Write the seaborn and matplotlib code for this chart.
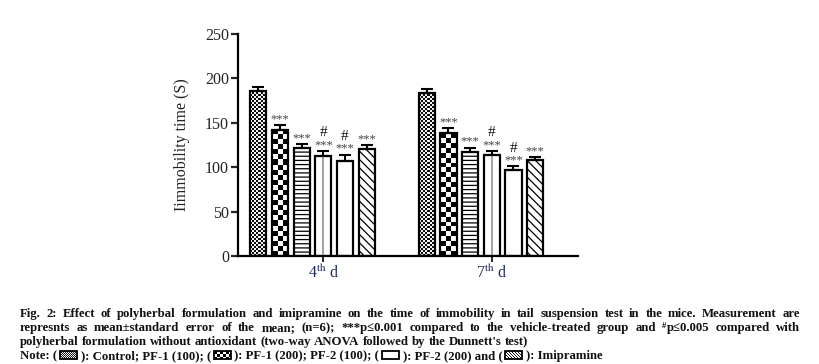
import numpy as np
import pandas as pd
import matplotlib
matplotlib.use("Agg")
import matplotlib.pyplot as plt
from matplotlib.patches import Rectangle
import seaborn as sns

# ---------------- data ----------------
days = ["4th d", "7th d"]
day_tick_labels = [r"4$^{\mathrm{th}}$ d", r"7$^{\mathrm{th}}$ d"]
groups = ["Control", "PF-1 (100)", "PF-1 (200)", "PF-2 (100)", "PF-2 (200)", "Imipramine"]
mean_day4 = [186, 142, 122, 113, 107, 121]
sem_day4 = [4, 5, 4, 5, 7, 4]
mean_day7 = [184, 138, 117, 114, 97, 108]
sem_day7 = [4, 6, 5, 4, 4, 3]
star_marks = ["", "***", "***", "***", "***", "***"]
hash_marks = ["", "", "", "#", "#", ""]
y_ticks = [0, 50, 100, 150, 200, 250]
y_label = "Iimmobility time (S)"

caption_line1 = ("Fig. 2: Effect of polyherbal formulation and imipramine on the time of immobility "
                 "in tail suspension test in the mice. Measurement are")
caption_line2 = ("represnts as mean\u00b1standard error of the mean; (n=6); ***p\u22640.001 compared to the "
                 "vehicle-treated group and ^#p\u22640.005 compared with")
caption_line3 = ("polyherbal formulation without antioxidant (two-way ANOVA followed by the Dunnett's test)")
note_tokens = ["Note: (", "ICON:fine", "): Control; PF-1 (100); (", "ICON:coarse",
               "): PF-1 (200); PF-2 (100); (", "ICON:plain", "): PF-2 (200) and (", "ICON:diag",
               "): Imipramine"]

# ---------------- style ----------------
sns.set_style("ticks")
plt.rcParams["font.family"] = ["Liberation Serif", "DejaVu Serif"]
plt.rcParams["mathtext.fontset"] = "stix"
plt.rcParams["hatch.linewidth"] = 0.9

W, H = 820, 364
fig = plt.figure(figsize=(W / 100, H / 100), dpi=100)
ax = fig.add_axes([238 / W, (H - 256) / H, 340 / W, 222 / H])

df = pd.DataFrame({
    "day": np.repeat(days, len(groups)),
    "group": groups * len(days),
    "value": mean_day4 + mean_day7,
})
sems = [sem_day4, sem_day7]

sns.barplot(data=df, x="day", y="value", hue="group", order=days, hue_order=groups,
            palette=["white"] * len(groups), saturation=1, edgecolor="black",
            linewidth=1.6, width=0.772, gap=0.25, errorbar=None, legend=False, ax=ax)

ax.set_xlim(-0.442, 1.576)
ax.set_ylim(0, 250)

bars = sorted([p for p in ax.patches if p.get_height() > 0], key=lambda p: p.get_x())
patterns = ["fine", "coarse", "hline", "vline", "plain", "diag"]


def checker(cell, w_px, h_px):
    nr = max(1, int(round(h_px / cell)))
    nc = max(1, int(round(w_px / cell)))
    return np.add.outer(np.arange(nr), np.arange(nc)) % 2


tick_pos = []
for k, bar in enumerate(bars):
    d, g = divmod(k, len(groups))
    cx = bar.get_x() + bar.get_width() / 2
    h = bar.get_height()
    e = sems[d][g]
    kind = patterns[g]
    z = bar.get_zorder()
    if kind in ("fine", "coarse"):
        (x0, y0), (x1, y1) = ax.transData.transform([[bar.get_x(), 0],
                                                     [bar.get_x() + bar.get_width(), h]])
        cell = 2.0 if kind == "fine" else 5.0
        arr = checker(cell, x1 - x0, y1 - y0)
        if kind == "fine":
            arr = arr * 0.9 + 0.05
        bar.set_facecolor("none")
        im = ax.imshow(arr, cmap="gray", vmin=0, vmax=1, origin="lower", aspect="auto",
                       interpolation="nearest",
                       extent=(bar.get_x(), bar.get_x() + bar.get_width(), 0, h),
                       zorder=z - 0.1)
        im.set_clip_path(bar)
    elif kind == "hline":
        bar.set_hatch("----")
    elif kind == "diag":
        bar.set_hatch("\\\\\\\\")
    elif kind == "vline":
        ax.vlines(cx, 0, h - 1, color="#9a9a9a", lw=1.3, zorder=z + 0.05)
        tick_pos.append(cx)
    ax.errorbar(cx, h, yerr=[[0], [e]], fmt="none", ecolor="black", elinewidth=1.5,
                capsize=4, capthick=1.5, zorder=z + 1)
    if star_marks[g]:
        ax.annotate(star_marks[g], (cx, h + e), xytext=(0, 0), textcoords="offset points",
                    ha="center", va="bottom", fontsize=9, color="#444444")
    if hash_marks[g]:
        ax.annotate(hash_marks[g], (cx, h + e), xytext=(0, 8.5), textcoords="offset points",
                    ha="center", va="bottom", fontsize=11, color="#111111")

ax.set_xlim(-0.442, 1.576)
ax.set_ylim(0, 250)
ax.set_xticks(tick_pos)
ax.set_xticklabels(day_tick_labels, fontsize=11.5, color="#1c2a5a")
ax.set_yticks(y_ticks)
ax.set_yticklabels([str(v) for v in y_ticks], fontsize=11.5, color="#222222")
ax.set_xlabel("")
ax.set_ylabel(y_label, fontsize=11.5, color="#222222")
ax.yaxis.set_label_coords(-0.141, 0.5)
ax.tick_params(axis="y", direction="out", length=5, width=1.6, pad=1.5)
ax.tick_params(axis="x", direction="out", length=4, width=1.4, pad=2)
for s in ("top", "right"):
    ax.spines[s].set_visible(False)
for s in ("left", "bottom"):
    ax.spines[s].set_linewidth(1.6)
    ax.spines[s].set_color("black")

# ---------------- caption ----------------
renderer = fig.canvas.get_renderer()
cap_kw = dict(fontsize=9.2, fontweight="bold", color="#111111", va="baseline", ha="left")
sup_kw = dict(cap_kw, fontsize=6.2)


def measure(s, kw=cap_kw):
    t = fig.text(0, 0, s, **kw)
    w = t.get_window_extent(renderer).width
    t.remove()
    return w


space_w = measure("a a") - measure("aa")


def make_word(w):
    """Return list of (text_artist, dy_px) runs and total width."""
    runs = []
    if w.startswith("^"):
        runs.append((fig.text(0, 0, w[1], **sup_kw), 3.2))
        w = w[2:]
    runs.append((fig.text(0, 0, w, **cap_kw), 0.0))
    widths = [t.get_window_extent(renderer).width for t, _ in runs]
    return runs, widths


def place_line(y_base, text, justify, x0=20, x1=800):
    words = [make_word(w) for w in text.split(" ")]
    total = sum(sum(ws) for _, ws in words)
    gap = (x1 - x0 - total) / (len(words) - 1) if justify else space_w
    x = x0
    for runs, ws in words:
        for (t, dy), w in zip(runs, ws):
            t.set_position((x / W, 1 - (y_base - dy) / H))
            x += w
        x += gap


place_line(317, caption_line1, True)
place_line(331, caption_line2, True)
place_line(345, caption_line3, False)


def icon_array(kind, w, h):
    ii, jj = np.mgrid[0:h, 0:w]
    if kind == "fine":
        a = ((ii + jj) % 2).astype(float) * 0.85 + 0.1
    elif kind == "coarse":
        a = (((ii // 3) + (jj // 3)) % 2).astype(float)
    elif kind == "diag":
        a = np.where((ii - jj) % 3 == 0, 0.1, 1.0)
    else:
        a = np.ones((h, w))
    return np.dstack([a, a, a])


x = 20
y_base = 359
iw, ih = 17, 8
for tok in note_tokens:
    if tok.startswith("ICON:"):
        kind = tok.split(":")[1]
        x += space_w
        yc = y_base - 4
        fig.figimage(icon_array(kind, iw, ih), xo=int(x), yo=int(H - (yc + ih / 2)), zorder=3)
        fig.add_artist(Rectangle((int(x) / W, (H - (yc + ih / 2)) / H), iw / W, ih / H,
                                 transform=fig.transFigure, fill=False, lw=1.3,
                                 ec="black", zorder=4))
        x += iw + space_w
    else:
        t = fig.text(x / W, 1 - y_base / H, tok, **cap_kw)
        x += t.get_window_extent(renderer).width

fig.savefig("out.png", dpi=100)
